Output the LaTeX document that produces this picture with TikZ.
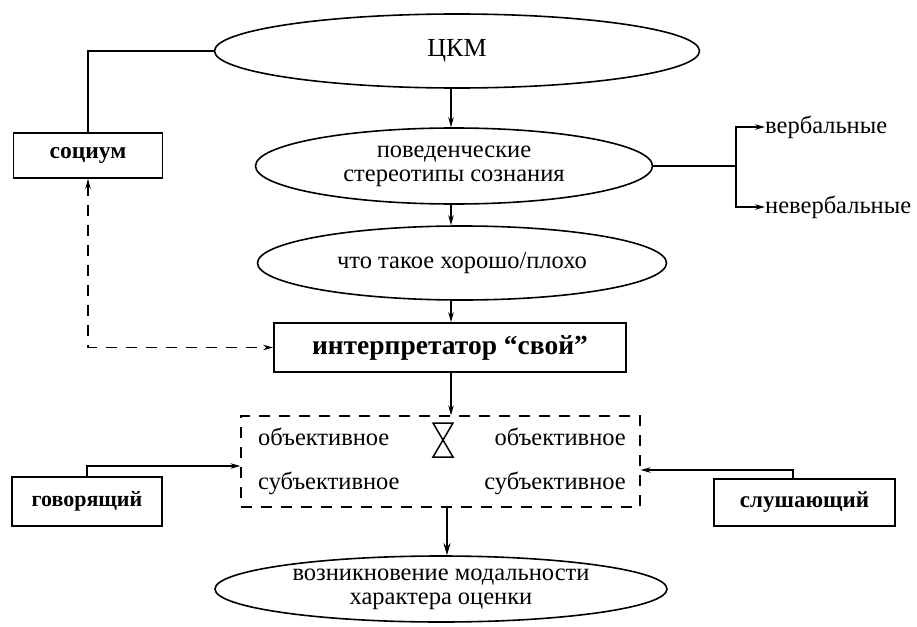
\documentclass[tikz,border=0pt]{standalone}
\usepackage{fontspec}
\setmainfont{Liberation Serif}
\usetikzlibrary{shapes.geometric,arrows.meta}
\begin{document}
\begin{tikzpicture}[x=1pt,y=1pt,
  oval/.style={draw,ellipse,line width=1.6pt,inner sep=0pt,align=center,font=\fontsize{24.5}{24}\selectfont},
  box/.style={draw,rectangle,line width=1.8pt,inner sep=0pt},
  lbl/.style={inner sep=0pt,font=\fontsize{24.5}{24}\selectfont},
  conn/.style={line width=1.1pt},
  arr/.style={conn,-{Stealth[length=10pt,width=5.5pt]}},
  dsh/.style={line width=1.3pt,dash pattern=on 11pt off 9pt},
]
\useasboundingbox (0,0) rectangle (917,-626);
\coordinate (spine) at (451,0);
% nodes
\node[oval,minimum width=485pt,minimum height=74pt,font=\fontsize{26}{28}\selectfont] (ckm) at (457,-51) {ЦКМ};
\node[box,minimum width=149pt,minimum height=45pt,font=\bfseries\fontsize{23.5}{24}\selectfont] (soc) at (88,-155.5) {социум};
\node[oval,minimum width=397pt,minimum height=76pt] (beh) at (454,-166) {поведенческие\\стереотипы сознания};
\node[lbl,anchor=west] (verb) at (765,-127) {вербальные};
\node[lbl,anchor=west] (nverb) at (765,-207) {невербальные};
\node[oval,minimum width=409pt,minimum height=74pt] (good) at (462,-263) {что такое хорошо/плохо};
\node[box,minimum width=352pt,minimum height=49pt,font=\bfseries\fontsize{27.5}{28}\selectfont] (interp) at (450,-347.5) {интерпретатор “свой”};
\node[draw,dsh,minimum width=399pt,minimum height=91pt,inner sep=0pt] (mid) at (440.5,-461.5) {};
\node[lbl,anchor=west] (o1) at (258,-437) {объективное};
\node[lbl,anchor=east] (o2) at (626,-437) {объективное};
\node[lbl,anchor=west] (s1) at (258,-483) {субъективное};
\node[lbl,anchor=east] (s2) at (626,-483) {субъективное};
\node[box,minimum width=150pt,minimum height=49pt,font=\bfseries\fontsize{22}{24}\selectfont] (spk) at (87,-501.5) {говорящий};
\node[box,minimum width=181pt,minimum height=47pt,font=\bfseries\fontsize{23}{24}\selectfont] (lst) at (804.5,-502.5) {слушающий};
\node[oval,minimum width=452pt,minimum height=66pt] (res) at (441,-589) {возникновение модальности\\характера оценки};
% hourglass
\draw[line width=1.5pt,line join=miter] (433,-423) -- (453,-423) -- (443,-440) -- cycle;
\draw[line width=1.5pt,line join=miter] (443,-440) -- (433,-457) -- (453,-457) -- cycle;
% connectors
\draw[conn,line width=1.5pt] (ckm.west) -| (soc.north);
\draw[arr] (spine |- ckm.south) -- (spine |- beh.north);
\draw[arr] (spine |- beh.south) -- (spine |- good.north);
\draw[arr] (spine |- good.south) -- (spine |- interp.north);
\draw[arr] (spine |- interp.south) -- (spine |- mid.north);
\coordinate (fork) at (736,-166);
\draw[conn] (beh.east) -- (fork);
\draw[arr] (fork) |- (verb.west);
\draw[arr] (fork) |- (nverb.west);
\draw[dsh,line width=1.1pt,{Stealth[length=10pt,width=5.5pt]}-{Stealth[length=10pt,width=5.5pt]}] (soc.south) |- (interp.west);
\draw[arr] (spk.north) |- (mid.west |- 0,-466);
\draw[arr] ([xshift=-11.5pt]lst.north) |- (mid.east |- 0,-470);
\draw[line width=2.6pt,-{Stealth[length=12pt,width=7pt]}] (mid.south -| 447,0) -- (res.north -| 447,0);
\end{tikzpicture}
\end{document}
